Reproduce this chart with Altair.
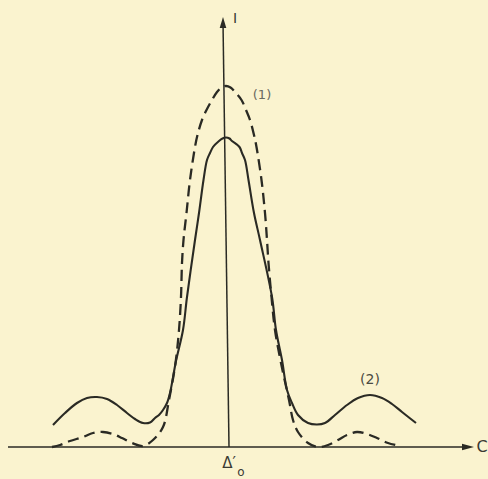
import altair as alt
import pandas as pd

# Curve (2): solid line  (x = path difference, y = intensity, arbitrary units)
solid_x = [-1.73, -1.61, -1.49, -1.39, -1.29, -1.19, -1.09, -0.99, -0.91, -0.83,
           -0.76, -0.71, -0.67, -0.63, -0.59, -0.56, -0.50, -0.43, -0.39, -0.31,
           -0.27, -0.225, -0.19, -0.16, -0.13, -0.07, -0.035, 0.00, 0.035, 0.06,
           0.135, 0.16, 0.19, 0.225, 0.28, 0.34, 0.46, 0.50, 0.56, 0.61,
           0.66, 0.72, 0.82, 0.91, 0.99, 1.09, 1.21, 1.32, 1.44, 1.56,
           1.66, 1.76, 1.90]
solid_y = [0.22, 0.34, 0.44, 0.49, 0.50, 0.48, 0.42, 0.34, 0.28, 0.24,
           0.245, 0.29, 0.32, 0.37, 0.44, 0.54, 0.86, 1.17, 1.50, 2.07,
           2.34, 2.67, 2.87, 2.94, 3.00, 3.06, 3.085, 3.095, 3.085, 3.06,
           3.00, 2.94, 2.87, 2.67, 2.34, 2.07, 1.50, 1.17, 0.87, 0.57,
           0.44, 0.32, 0.24, 0.225, 0.24, 0.32, 0.42, 0.49, 0.52, 0.49,
           0.43, 0.35, 0.24]

# Curve (1): dashed line
dash_x = [-1.74, -1.66, -1.56, -1.43, -1.33, -1.23, -1.13, -1.04, -0.94, -0.83,
          -0.73, -0.63, -0.57, -0.505, -0.47, -0.45, -0.44, -0.425, -0.395, -0.36,
          -0.31, -0.285, -0.24, -0.195, -0.14, -0.09, -0.045, 0.00, 0.045, 0.09,
          0.155, 0.20, 0.24, 0.28, 0.305, 0.355, 0.39, 0.41, 0.425, 0.455,
          0.49, 0.55, 0.63, 0.67, 0.72, 0.82, 0.92, 1.02, 1.12, 1.21,
          1.31, 1.41, 1.51, 1.62, 1.74]
dash_y = [0.00, 0.02, 0.06, 0.10, 0.14, 0.15, 0.13, 0.09, 0.04, 0.01,
          0.07, 0.20, 0.47, 0.84, 1.17, 1.50, 1.84, 2.07, 2.34, 2.67,
          3.00, 3.12, 3.27, 3.37, 3.47, 3.55, 3.595, 3.61, 3.595, 3.55,
          3.47, 3.37, 3.27, 3.12, 3.00, 2.67, 2.34, 2.07, 1.84, 1.50,
          1.17, 0.84, 0.47, 0.27, 0.15, 0.04, 0.00, 0.02, 0.07, 0.12,
          0.15, 0.13, 0.09, 0.04, 0.01]

# Text labels
label_text = ["I", "C", "(1)", "(2)", "Δ′", "o"]
label_x = [0.09, 2.56, 0.36, 1.44, 0.03, 0.15]
label_y = [4.28, 0.00, 3.52, 0.67, -0.16, -0.245]
label_size = [14, 16, 13, 14, 15, 12]
label_color = ["#3a3a33", "#3a3a33", "#6a6a60", "#4a4a42", "#3a3a33", "#3a3a33"]

INK = "#2a2a24"
BG = "#faf3cf"

xs = alt.Scale(domain=[-2.26, 2.62], nice=False, zero=False)
ys = alt.Scale(domain=[-0.32, 4.47], nice=False, zero=False)

solid_df = pd.DataFrame({"x": solid_x, "y": solid_y})
dash_df = pd.DataFrame({"x": dash_x, "y": dash_y})
lab_df = pd.DataFrame({"t": label_text, "x": label_x, "y": label_y,
                       "s": label_size, "c": label_color})

X = alt.X("x:Q", scale=xs, axis=None)
Y = alt.Y("y:Q", scale=ys, axis=None)

solid = alt.Chart(solid_df).mark_line(
    color=INK, strokeWidth=2.1, interpolate="catmull-rom"
).encode(x=X, y=Y)

dashed = alt.Chart(dash_df).mark_line(
    color=INK, strokeWidth=2.3, strokeDash=[11, 6], interpolate="catmull-rom"
).encode(x=X, y=Y)

axes_df = pd.DataFrame({"x": [-2.18, -0.03], "x2": [2.44, 0.03],
                        "y": [0.0, 4.25], "y2": [0.0, 0.0]})
axes = alt.Chart(axes_df).mark_rule(color=INK, strokeWidth=1.5).encode(
    x=X, x2="x2:Q", y=Y, y2="y2:Q")

up_arrow = alt.Chart(pd.DataFrame({"x": [-0.03], "y": [4.245]})).mark_point(
    shape="M0,-1L0.6,1L-0.6,1Z", size=121, filled=True, color=INK, opacity=1
).encode(x=X, y=Y)

right_arrow = alt.Chart(pd.DataFrame({"x": [2.42], "y": [0.0]})).mark_point(
    shape="M1,0L-1,0.55L-1,-0.55Z", size=144, filled=True, color=INK, opacity=1
).encode(x=X, y=Y)

labels = alt.Chart(lab_df).mark_text(
    font="DejaVu Sans", align="center", baseline="middle"
).encode(
    x=X, y=Y, text="t:N",
    size=alt.Size("s:Q", scale=None, legend=None),
    color=alt.Color("c:N", scale=None, legend=None),
)

chart = alt.layer(dashed, solid, axes, up_arrow, right_arrow, labels).properties(
    width=488, height=479, background=BG, padding=0,
    autosize=alt.AutoSizeParams(type="none"),
).configure_view(stroke=None)

chart.save("out.html", embed_options={"renderer": "svg", "actions": False})
